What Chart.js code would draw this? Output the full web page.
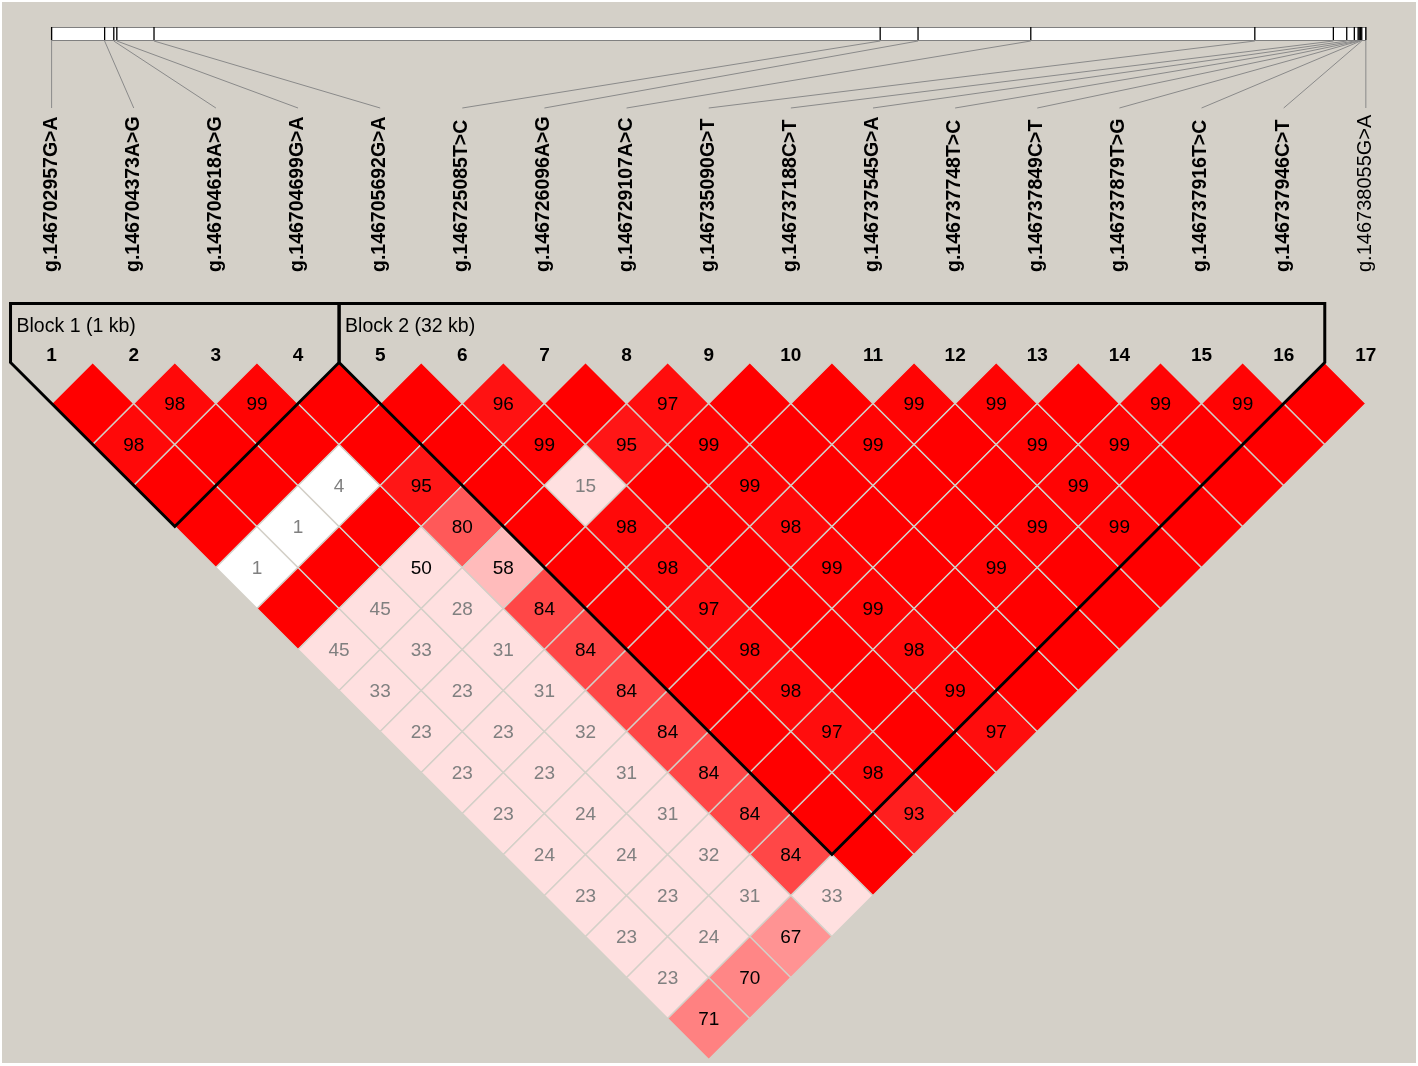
<!DOCTYPE html>
<html><head><meta charset="utf-8">
<script src="https://cdn.jsdelivr.net/npm/chart.js@4.4.1/dist/chart.umd.min.js"></script>
<style>html,body{margin:0;padding:0;background:#fff;overflow:hidden}</style>
</head><body>
<canvas id="c" width="1418" height="1066"></canvas>
<script>
// ---- data ----
const markerNames = [
  'g.146702957G>A','g.146704373A>G','g.146704618A>G','g.146704699G>A','g.146705692G>A',
  'g.146725085T>C','g.146726096A>G','g.146729107A>C','g.146735090G>T','g.146737188C>T',
  'g.146737545G>A','g.146737748T>C','g.146737849C>T','g.146737879T>G','g.146737916T>C',
  'g.146737946C>T','g.146738055G>A'
];
const markerPositions = [
  146702957,146704373,146704618,146704699,146705692,146725085,146726096,146729107,146735090,
  146737188,146737545,146737748,146737849,146737879,146737916,146737946,146738055
];
// D' x 100, row i holds pairs (i, j) for j = i+1 .. 17
const dprime = [
  [100,98,100,100,1,100,45,33,23,23,23,24,23,23,23,71],
  [98,100,100,1,100,45,33,23,23,23,24,24,23,24,70],
  [99,100,4,100,50,28,31,31,32,31,31,32,31,67],
  [100,100,95,80,58,84,84,84,84,84,84,84,33],
  [100,100,100,100,100,100,100,100,100,100,100,100],
  [96,99,15,98,98,97,98,98,97,98,93],
  [100,95,100,100,100,100,100,100,100,100],
  [97,99,99,98,99,99,98,99,97],
  [100,100,100,100,100,100,100,100],
  [100,99,100,100,99,100,100],
  [99,100,100,99,100,100],
  [99,99,99,99,100],
  [100,99,100,100],
  [99,100,100],
  [99,100],
  [100]
];
const lowLodPairs = [[1,6],[2,6],[3,6]];
const blockFirst = [1,5];
const blockLast = [4,16];
const blockLabels = ['Block 1 (1 kb)','Block 2 (32 kb)'];

// ---- build points ----
const points = [];
dprime.forEach((row, r) => {
  const i = r + 1;
  row.forEach((v, k) => {
    const j = i + 1 + k;
    const low = lowLodPairs.some(p => p[0] === i && p[1] === j);
    points.push({x: (i + j) / 2, y: j - i, v: v, low: low});
  });
});

function cellColor(p) {
  const d = p.v / 100;
  if (p.low) return d >= 1 ? 'rgb(192,192,240)' : '#ffffff';
  if (d >= 1) return 'rgb(255,0,0)';
  if (d < 0.5) return 'rgb(255,224,224)';
  const g = Math.round(223 * 2 * (1 - d));
  return 'rgb(255,' + g + ',' + g + ')';
}
function textColor(p) {
  const d = p.v / 100;
  if (p.low || d < 0.5) return '#808080';
  return '#000000';
}

const FONT = '"Liberation Sans", Arial, sans-serif';
const XUNIT = 82.14, X1PIX = 51.6, YUNIT = 41.0, Y1PIX = 403.5;
const XMIN = 1 - X1PIX / XUNIT, XMAX = XMIN + 1418 / XUNIT;
const YMIN = 1 - Y1PIX / YUNIT, YMAX = YMIN + 1066 / YUNIT;

function halfStep(chart) {
  const y = chart.scales && chart.scales.y;
  if (!y) return 41;
  return Math.abs(y.getPixelForValue(1) - y.getPixelForValue(0));
}

const bgPlugin = {
  id: 'bg',
  beforeDraw(chart) {
    const c = chart.ctx;
    c.save();
    c.fillStyle = '#ffffff';
    c.fillRect(0, 0, chart.width, chart.height);
    c.fillStyle = 'rgb(212,208,200)';
    c.fillRect(2, 2, chart.width - 4, chart.height - 5);
    c.restore();
  }
};

const decorPlugin = {
  id: 'decor',
  afterDatasetsDraw(chart) {
    const c = chart.ctx;
    const sx = chart.scales.x, sy = chart.scales.y;
    const meta = chart.getDatasetMeta(0);
    c.save();
    // cell numbers
    c.font = '19px ' + FONT;
    c.textAlign = 'center';
    c.textBaseline = 'middle';
    meta.data.forEach((el, k) => {
      const p = points[k];
      if (p.v >= 100) return;
      c.fillStyle = textColor(p);
      c.fillText(String(p.v), el.x, el.y + 1);
    });

    // block outlines
    const topPix = 303.5;
    c.strokeStyle = '#000';
    c.lineWidth = 3;
    c.lineJoin = 'miter';
    blockFirst.forEach((f, b) => {
      const l = blockLast[b];
      const xl = sx.getPixelForValue(f - 0.5), xr = sx.getPixelForValue(l + 0.5);
      const y0 = sy.getPixelForValue(0);
      const xc = sx.getPixelForValue((f + l) / 2), yc = sy.getPixelForValue(l - f + 1);
      c.beginPath();
      c.moveTo(xl, topPix);
      c.lineTo(xl, y0);
      c.lineTo(xc, yc);
      c.lineTo(xr, y0);
      c.lineTo(xr, topPix);
      c.closePath();
      c.stroke();
      c.fillStyle = '#000';
      c.font = '19.5px ' + FONT;
      c.textAlign = 'left';
      c.textBaseline = 'middle';
      c.fillText(blockLabels[b], xl + 6, 327);
    });

    // marker numbers
    c.font = 'bold 19px ' + FONT;
    c.textAlign = 'center';
    c.textBaseline = 'middle';
    c.fillStyle = '#000';
    markerNames.forEach((n, k) => {
      c.fillText(String(k + 1), sx.getPixelForValue(k + 1), 356);
    });

    // genomic bar
    const p0 = markerPositions[0], pN = markerPositions[markerPositions.length - 1];
    const gx = pos => sx.getPixelForValue(1 + (pos - p0) / (pN - p0) * (markerPositions.length - 1));
    const barTop = 27, barBot = 40;
    c.fillStyle = '#ffffff';
    c.fillRect(gx(p0), barTop, gx(pN) - gx(p0), barBot - barTop);
    c.strokeStyle = '#808080';
    c.lineWidth = 1;
    c.strokeRect(gx(p0), barTop + 0.5, gx(pN) - gx(p0), barBot - barTop);
    c.strokeStyle = '#000';
    c.lineWidth = 1.3;
    markerPositions.forEach(pos => {
      c.beginPath();
      c.moveTo(gx(pos), barTop);
      c.lineTo(gx(pos), barBot);
      c.stroke();
    });
    // connecting lines
    c.strokeStyle = '#8a8a8a';
    c.lineWidth = 1;
    markerPositions.forEach((pos, k) => {
      c.beginPath();
      c.moveTo(gx(pos), barBot + 1);
      c.lineTo(sx.getPixelForValue(k + 1), 108);
      c.stroke();
    });
    // rotated names
    c.fillStyle = '#000';
    c.textAlign = 'left';
    c.textBaseline = 'alphabetic';
    markerNames.forEach((n, k) => {
      const m = k + 1;
      const inBlock = blockFirst.some((f, b) => m >= f && m <= blockLast[b]);
      const fs = inBlock ? 19.5 : 20;
      c.font = (inBlock ? 'bold ' : '') + fs + 'px ' + FONT;
      c.save();
      c.translate(sx.getPixelForValue(m), 272);
      c.rotate(-Math.PI / 2);
      c.fillText(n, 0, 0.253 * fs);
      c.restore();
    });
    c.restore();
  }
};

new Chart(document.getElementById('c').getContext('2d'), {
  type: 'scatter',
  data: {
    datasets: [{
      data: points,
      pointStyle: 'rectRot',
      pointRadius: ctx => halfStep(ctx.chart),
      pointHoverRadius: ctx => halfStep(ctx.chart),
      pointBackgroundColor: ctx => cellColor(ctx.raw),
      pointBorderColor: 'rgb(212,208,200)',
      pointBorderWidth: 1.3
    }]
  },
  options: {
    responsive: false,
    animation: false,
    events: [],
    layout: {padding: 0},
    plugins: {legend: {display: false}, tooltip: {enabled: false}, title: {display: false}},
    scales: {
      x: {type: 'linear', display: false, min: XMIN, max: XMAX},
      y: {type: 'linear', display: false, reverse: true, min: YMIN, max: YMAX}
    }
  },
  plugins: [bgPlugin, decorPlugin]
});
</script>
</body></html>
